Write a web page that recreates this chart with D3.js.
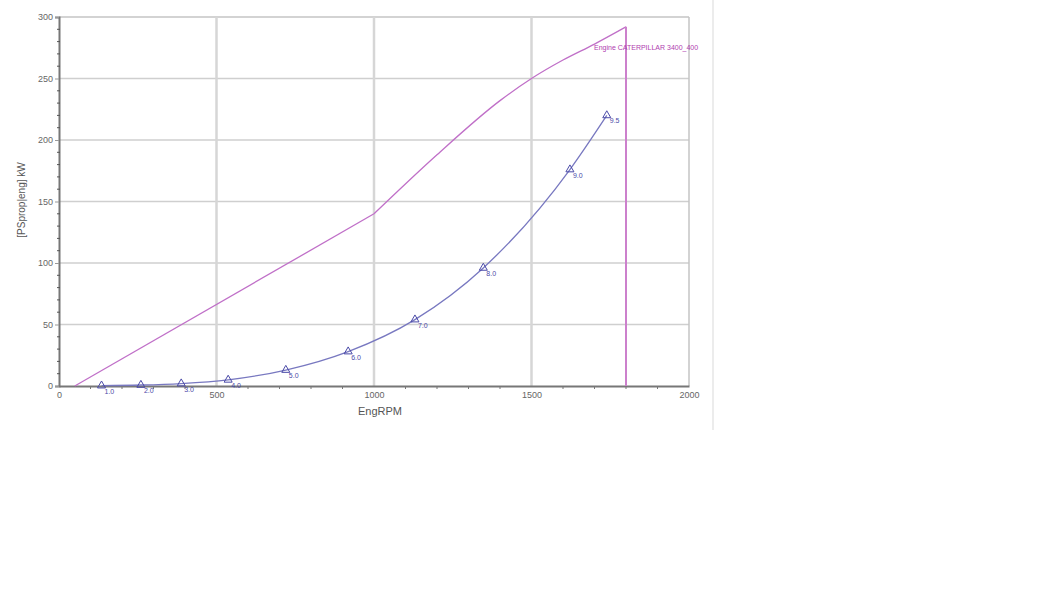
<!DOCTYPE html>
<html>
<head>
<meta charset="utf-8">
<script src="https://cdn.jsdelivr.net/npm/d3@7"></script>
<style>
  body { margin: 0; background: #fff; }
  svg { display: block; font-family: Arial, "Liberation Sans", sans-serif; }
</style>
</head>
<body>
<svg id="chart" width="1060" height="605"></svg>
<script>
// engine limit curve (rpm, kW)
const engineRpm = [50, 1000, 1200, 1400, 1500, 1600, 1700, 1800];
const enginePower = [0, 140, 188, 232, 250, 265, 278, 292];
const engineName = "Engine CATERPILLAR 3400_400";

// propeller curve points, labelled by speed
const propSpeed = ["1.0", "2.0", "3.0", "4.0", "5.0", "6.0", "7.0", "8.0", "9.0", "9.5"];
const propRpm = [135, 260, 388, 537, 720, 918, 1130, 1347, 1622, 1739];
const propPower = [0.3, 0.8, 2, 5, 13, 28, 54, 96, 176, 220];

const xTicks = [0, 500, 1000, 1500, 2000];
const yTicks = [0, 50, 100, 150, 200, 250, 300];

const svg = d3.select("#chart");
const plotL = 59, plotR = 689, plotT = 17, plotB = 386;

const x = d3.scaleLinear().domain([0, 2000]).range([plotL, plotR]);
const y = d3.scaleLinear().domain([0, 300]).range([plotB, plotT]);

// faint panel border on the right
svg.append("line")
    .attr("x1", 713).attr("x2", 713).attr("y1", 0).attr("y2", 430)
    .attr("stroke", "#ececec").attr("stroke-width", 2);

// grid
svg.append("g").selectAll("line")
    .data(yTicks.slice(1))
    .enter().append("line")
    .attr("x1", plotL).attr("x2", plotR)
    .attr("y1", d => y(d)).attr("y2", d => y(d))
    .attr("stroke", d => d === 300 ? "#c4c4c4" : "#cfcfcf")
    .attr("stroke-width", 1.5);
svg.append("g").selectAll("line")
    .data(xTicks.slice(1))
    .enter().append("line")
    .attr("x1", d => x(d)).attr("x2", d => x(d))
    .attr("y1", plotT).attr("y2", plotB)
    .attr("stroke", d => d === 2000 ? "#c4c4c4" : "#d6d6d6")
    .attr("stroke-width", d => d === 2000 ? 1.5 : 2.5);

// axes
const xAxis = svg.append("g")
    .attr("transform", "translate(0," + plotB + ")")
    .call(d3.axisBottom(x).tickValues(xTicks).tickFormat(d3.format("d")).tickSize(0).tickPadding(6));
const yAxis = svg.append("g")
    .attr("transform", "translate(" + plotL + ",0)")
    .call(d3.axisLeft(y).tickValues(yTicks).tickFormat(d3.format("d")).tickSize(4).tickPadding(2));
[xAxis, yAxis].forEach(a => {
    a.select(".domain").attr("stroke", "#777").attr("stroke-width", 2);
    a.selectAll("text").attr("fill", "#666").style("font-size", "9px");
    a.selectAll(".tick line").attr("stroke", "#999");
});
// minor ticks
svg.append("g").selectAll("line")
    .data(d3.range(10, 300, 10).filter(d => d % 50 !== 0))
    .enter().append("line")
    .attr("x1", plotL - 2).attr("x2", plotL + 1)
    .attr("y1", d => y(d)).attr("y2", d => y(d))
    .attr("stroke", "#555").attr("stroke-width", 1);
svg.append("g").selectAll("line")
    .data(d3.range(100, 2000, 100).filter(d => d % 500 !== 0))
    .enter().append("line")
    .attr("x1", d => x(d)).attr("x2", d => x(d))
    .attr("y1", plotB).attr("y2", plotB + 3)
    .attr("stroke", "#777").attr("stroke-width", 1);

// axis titles
svg.append("text")
    .attr("x", 380).attr("y", 415)
    .attr("text-anchor", "middle")
    .attr("fill", "#555").style("font-size", "11px")
    .text("EngRPM");
svg.append("text")
    .attr("transform", "translate(25,200) rotate(-90)")
    .attr("text-anchor", "middle")
    .attr("fill", "#555").style("font-size", "10px")
    .text("[PSprop|eng] kW");

// engine curve: straight up to 1000 rpm, then a smooth bend
const engineData = engineRpm.map((r, i) => ({ rpm: r, p: enginePower[i] }));
const engLine = d3.line().x(d => x(d.rpm)).y(d => y(d.p));
svg.append("path")
    .datum(engineData.slice(0, 2))
    .attr("fill", "none")
    .attr("stroke", "#c070c8").attr("stroke-width", 1.3)
    .attr("d", engLine);
svg.append("path")
    .datum(engineData.slice(1))
    .attr("fill", "none")
    .attr("stroke", "#c070c8").attr("stroke-width", 1.3)
    .attr("d", engLine.curve(d3.curveMonotoneX));
svg.append("line")
    .attr("x1", x(1800)).attr("x2", x(1800))
    .attr("y1", y(292)).attr("y2", y(0))
    .attr("stroke", "#cc80cc").attr("stroke-width", 2);
svg.append("text")
    .attr("x", x(1800) - 32).attr("y", 50)
    .attr("fill", "#b040b0").style("font-size", "7px")
    .text(engineName);

// propeller curve
const propData = propRpm.map((r, i) => ({ rpm: r, p: propPower[i], s: propSpeed[i] }));
svg.append("path")
    .datum(propData)
    .attr("fill", "none")
    .attr("stroke", "#7878c0").attr("stroke-width", 1.3)
    .attr("d", d3.line().x(d => x(d.rpm)).y(d => y(d.p)).curve(d3.curveMonotoneX));
const tri = d3.symbol().type(d3.symbolTriangle).size(28);
const marks = svg.append("g").selectAll("g")
    .data(propData)
    .enter().append("g")
    .attr("transform", d => "translate(" + x(d.rpm) + "," + y(d.p) + ")");
marks.append("path")
    .attr("d", tri)
    .attr("fill", "none")
    .attr("stroke", "#4a4aa8").attr("stroke-width", 1);
marks.append("text")
    .attr("x", 3).attr("y", 8)
    .attr("fill", "#4a4aa8").style("font-size", "7px")
    .text(d => d.s);
</script>
</body>
</html>
